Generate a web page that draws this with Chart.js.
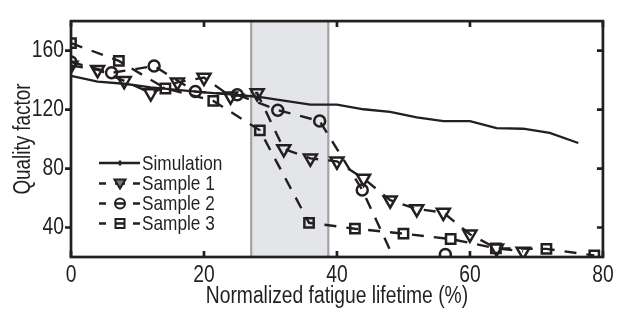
<!DOCTYPE html>
<html>
<head>
<meta charset="utf-8">
<script src="https://cdn.jsdelivr.net/npm/chart.js@4"></script>
<style>
  html, body { margin: 0; padding: 0; background: #ffffff; }
  #wrap { width: 620px; height: 323px; position: relative; }
</style>
</head>
<body>
<div id="wrap"><canvas id="c" width="620" height="323"></canvas></div>
<script>
// ---- data ----
const xTicks = [0, 20, 40, 60, 80];
const yTicks = [40, 80, 120, 160];

const simLabel = "Simulation";
const simX = [0, 4, 8, 12, 16, 20, 24, 28, 32, 36, 40, 44, 48, 52, 56, 60, 64, 68, 72, 76.3];
const simY = [142.8, 139, 137.5, 135, 133.3, 131.7, 130.3, 128.7, 126, 123.4, 123.4, 120.2, 118.5, 114.7, 112.2, 112.2, 107.4, 107, 104.2, 97.3];

const s1Label = "Sample 1";
const s1X = [0, 4, 8, 12, 16, 20, 24, 28, 32, 36, 40, 44, 48, 52, 56, 60, 64, 68];
const s1Y = [149.9, 147, 139.5, 131.2, 138.5, 141.7, 129, 131.2, 93.3, 86.9, 84.9, 73.3, 58.5, 52.6, 50.1, 35.4, 25.9, 23.8];

const s2Label = "Sample 2";
const s2X = [0, 6.1, 12.5, 18.7, 25, 31.1, 37.4, 43.8, 49.5, 56.3];
const s2Y = [152.3, 144.9, 149.5, 132.2, 130.1, 119.6, 112.2, 65.5, 10, 21.7];

const s3Label = "Sample 3";
const s3X = [0, 7.2, 14.2, 21.4, 28.4, 35.8, 42.7, 50, 57.1, 63.9, 71.5, 78.7];
const s3Y = [165.1, 153, 134.3, 125.9, 105.9, 43.2, 39.2, 35.8, 32.2, 25.9, 25.5, 21];

const shadeRange = [27.1, 38.7];

const xTitle = "Normalized fatigue lifetime (%)";
const yTitle = "Quality factor";

// ---- chart ----
const INK = "#231f20";
const FONT = "'Liberation Sans', Arial, sans-serif";
const NARROW = 0.82;

const canvas = document.getElementById("c");
const ctx2d = canvas.getContext("2d");
// condensed lettering (Arial-Narrow look) by horizontal scaling about the text anchor
const origFillText = ctx2d.fillText.bind(ctx2d);
ctx2d.fillText = function (text, x, y, maxWidth) {
  this.save();
  this.translate(x, y);
  this.scale(NARROW, 1);
  if (maxWidth !== undefined) origFillText(text, 0, 0, maxWidth / NARROW);
  else origFillText(text, 0, 0);
  this.restore();
};

function pts(xs, ys) { return xs.map((x, i) => ({ x: x, y: ys[i] })); }

const dashed = [12, 10];

const shadePlugin = {
  id: "shade",
  beforeDatasetsDraw(chart) {
    const { ctx, chartArea: a, scales: { x } } = chart;
    const x0 = x.getPixelForValue(shadeRange[0]);
    const x1 = x.getPixelForValue(shadeRange[1]);
    ctx.save();
    ctx.fillStyle = "#e4e5e8";
    ctx.fillRect(x0, a.top, x1 - x0, a.bottom - a.top);
    ctx.strokeStyle = "#a3a3a5";
    ctx.lineWidth = 2.2;
    ctx.beginPath();
    ctx.moveTo(x0, a.top); ctx.lineTo(x0, a.bottom);
    ctx.moveTo(x1, a.top); ctx.lineTo(x1, a.bottom);
    ctx.stroke();
    ctx.restore();
  }
};

const framePlugin = {
  id: "frame",
  afterDatasetsDraw(chart) {
    const { ctx, chartArea: a, scales: { x, y } } = chart;
    const tl = 6;
    ctx.save();
    ctx.strokeStyle = INK;
    ctx.lineWidth = 2.7;
    ctx.lineCap = "butt";
    ctx.strokeRect(a.left, a.top, a.right - a.left, a.bottom - a.top);
    ctx.beginPath();
    y.ticks.forEach(t => {
      const py = y.getPixelForValue(t.value);
      ctx.moveTo(a.left - tl, py); ctx.lineTo(a.left, py);
      ctx.moveTo(a.right, py); ctx.lineTo(a.right - tl, py);
    });
    x.ticks.forEach(t => {
      const px = x.getPixelForValue(t.value);
      ctx.moveTo(px, a.bottom); ctx.lineTo(px, a.bottom - tl);
      ctx.moveTo(px, a.top); ctx.lineTo(px, a.top + tl);
    });
    ctx.stroke();
    ctx.restore();
  }
};

const legendPlugin = {
  id: "customLegend",
  afterDraw(chart) {
    const { ctx } = chart;
    const x0 = 99, x1 = 140, xm = 120, tx = 142;
    const rows = [163, 183.5, 203.5, 223.5];
    ctx.save();
    ctx.font = "21px " + FONT;
    ctx.textBaseline = "middle";
    ctx.textAlign = "left";
    ctx.fillStyle = INK;
    ctx.strokeStyle = INK;
    chart.data.datasets.forEach((ds, i) => {
      const yy = rows[i];
      ctx.lineWidth = 2.4;
      ctx.beginPath();
      if (i === 0) {
        ctx.moveTo(x0, yy); ctx.lineTo(x1, yy);
        ctx.moveTo(xm, yy - 2.5); ctx.lineTo(xm, yy + 2.5);
      } else {
        ctx.moveTo(x0, yy); ctx.lineTo(x0 + 7, yy);
        ctx.moveTo(x1 - 7, yy); ctx.lineTo(x1, yy);
        ctx.moveTo(xm - 5, yy); ctx.lineTo(xm + 5, yy);
      }
      ctx.stroke();
      ctx.lineWidth = 2;
      if (i === 1) {
        ctx.fillStyle = "#7a7a7a";
        ctx.beginPath();
        ctx.moveTo(xm - 5.5, yy - 4); ctx.lineTo(xm + 5.5, yy - 4); ctx.lineTo(xm, yy + 5);
        ctx.closePath(); ctx.fill(); ctx.stroke();
      } else if (i === 2) {
        ctx.beginPath(); ctx.arc(xm, yy, 5, 0, Math.PI * 2); ctx.stroke();
      } else if (i === 3) {
        ctx.strokeRect(xm - 4.5, yy - 4.5, 9, 9);
      }
      ctx.fillStyle = INK;
      ctx.fillText(ds.label, tx, yy + 1);
    });
    ctx.restore();
  }
};

const common = {
  borderColor: INK,
  pointBorderColor: INK,
  pointBackgroundColor: "rgba(0,0,0,0)",
  pointBorderWidth: 2.5,
  borderWidth: 2.4,
  tension: 0,
  fill: false
};

new Chart(canvas, {
  type: "line",
  data: {
    datasets: [
      Object.assign({}, common, { label: simLabel, data: pts(simX, simY), pointRadius: 0, borderWidth: 2.3 }),
      Object.assign({}, common, { label: s1Label, data: pts(s1X, s1Y), borderDash: dashed, pointStyle: "triangle", pointRotation: 180, pointRadius: 7.5 }),
      Object.assign({}, common, { label: s2Label, data: pts(s2X, s2Y), borderDash: dashed, pointStyle: "circle", pointRadius: 5.5 }),
      Object.assign({}, common, { label: s3Label, data: pts(s3X, s3Y), borderDash: dashed, pointStyle: "rect", pointRadius: 6.6 })
    ]
  },
  options: {
    responsive: false,
    animation: false,
    devicePixelRatio: 1,
    layout: { padding: { top: 4, right: 13, left: 0, bottom: 0 } },
    plugins: { legend: { display: false }, tooltip: { enabled: false } },
    scales: {
      x: {
        type: "linear", min: 0, max: 80,
        afterBuildTicks: s => { s.ticks = xTicks.map(v => ({ value: v })); },
        afterFit: s => { s.height = 66; },
        grid: { display: false, drawTicks: false },
        border: { display: false },
        ticks: { color: INK, font: { family: FONT, size: 23.5 }, padding: 4, maxRotation: 0 },
        title: { display: true, text: xTitle, color: INK, font: { family: FONT, size: 23.5 }, padding: { top: 0, bottom: 12 } }
      },
      y: {
        type: "linear", min: 20, max: 180,
        afterBuildTicks: s => { s.ticks = yTicks.map(v => ({ value: v })); },
        afterFit: s => { s.width = 71; },
        grid: { display: false, drawTicks: false },
        border: { display: false },
        ticks: { color: INK, font: { family: FONT, size: 23.5 }, padding: 7 },
        title: { display: true, text: yTitle, color: INK, font: { family: FONT, size: 23 }, padding: { top: 10, bottom: 0 } }
      }
    }
  },
  plugins: [shadePlugin, framePlugin, legendPlugin]
});
</script>
</body>
</html>
